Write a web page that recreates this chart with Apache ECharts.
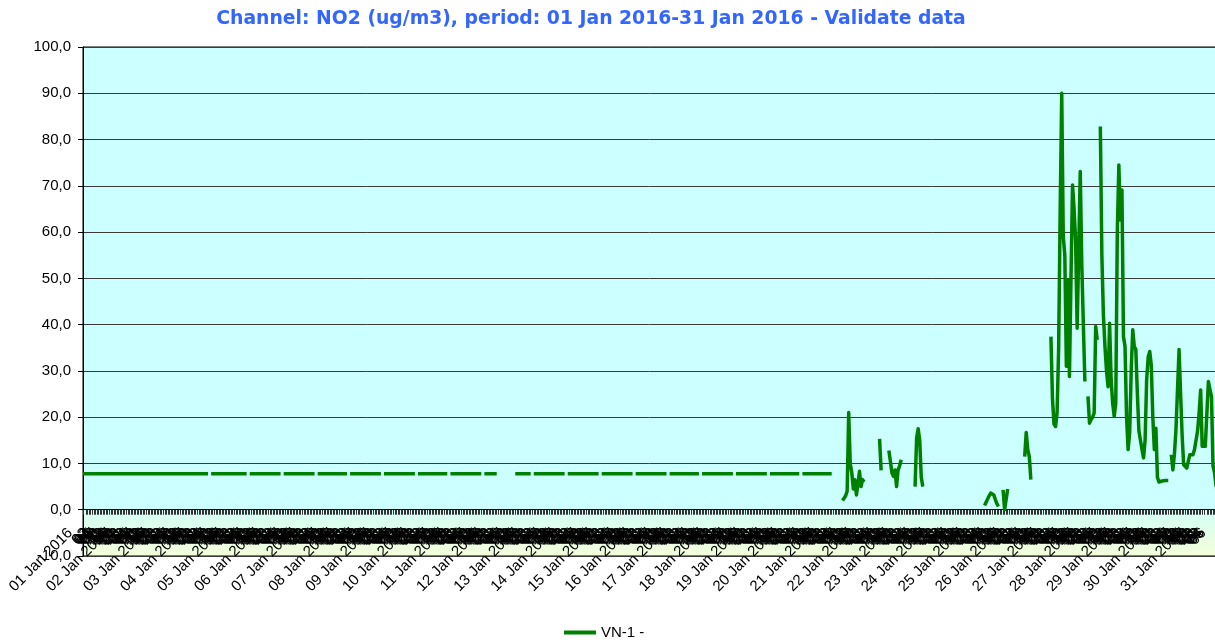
<!DOCTYPE html>
<html><head><meta charset="utf-8">
<script src="https://cdn.jsdelivr.net/npm/echarts@6/dist/echarts.min.js"></script>
<style>html,body{margin:0;padding:0;background:#fff}#c{width:1215px;height:643px}</style>
</head><body><div id="c"></div>
<script>
const _ = null;
const chartTitle = "Channel: NO2 (ug/m3), period: 01 Jan 2016-31 Jan 2016 - Validate data";
const seriesName = "VN-1 -";
const dayLabels = ["01 Jan 2016","02 Jan 2016","03 Jan 2016","04 Jan 2016","05 Jan 2016","06 Jan 2016","07 Jan 2016","08 Jan 2016","09 Jan 2016","10 Jan 2016","11 Jan 2016","12 Jan 2016","13 Jan 2016","14 Jan 2016","15 Jan 2016","16 Jan 2016","17 Jan 2016","18 Jan 2016","19 Jan 2016","20 Jan 2016","21 Jan 2016","22 Jan 2016","23 Jan 2016","24 Jan 2016","25 Jan 2016","26 Jan 2016","27 Jan 2016","28 Jan 2016","29 Jan 2016","30 Jan 2016","31 Jan 2016"];
const hourLabels = ["00","01","02","03","04","05","06","07","08","09","10","11","12","13","14","15","16","17","18","19","20","21","22","23"];
const yMin = -10, yMax = 100, yStep = 10;

// hourly NO2 values, one row per day (24 h)
const no2 = [
7.8,7.8,7.8,7.8,7.8,7.8,7.8,7.8,7.8,7.8,7.8,7.8,7.8,7.8,7.8,7.8,7.8,7.8,7.8,7.8,7.8,7.8,7.8,7.8,
7.8,7.8,7.8,7.8,7.8,7.8,7.8,7.8,7.8,7.8,7.8,7.8,7.8,7.8,7.8,7.8,7.8,7.8,7.8,7.8,7.8,7.8,7.8,7.8,
7.8,7.8,7.8,7.8,7.8,7.8,7.8,7.8,7.8,7.8,7.8,7.8,7.8,7.8,7.8,7.8,7.8,7.8,7.8,7.8,7.8,7.8,7.8,7.8,
7.8,7.8,7.8,7.8,7.8,7.8,7.8,7.8,7.8,7.8,_,7.8,7.8,7.8,7.8,7.8,7.8,7.8,7.8,7.8,7.8,7.8,7.8,7.8,
7.8,7.8,7.8,7.8,7.8,7.8,7.8,7.8,7.8,7.8,7.8,_,7.8,7.8,7.8,7.8,7.8,7.8,7.8,7.8,7.8,7.8,7.8,7.8,
7.8,7.8,7.8,7.8,7.8,7.8,7.8,7.8,7.8,_,7.8,7.8,7.8,7.8,7.8,7.8,7.8,7.8,7.8,7.8,7.8,7.8,7.8,7.8,
7.8,7.8,7.8,7.8,7.8,7.8,7.8,_,7.8,7.8,7.8,7.8,7.8,7.8,7.8,7.8,7.8,7.8,7.8,7.8,7.8,7.8,7.8,7.8,
7.8,7.8,7.8,7.8,_,7.8,7.8,7.8,7.8,7.8,7.8,7.8,7.8,7.8,7.8,7.8,7.8,7.8,7.8,7.8,7.8,7.8,7.8,7.8,
7.8,7.8,_,7.8,7.8,7.8,7.8,7.8,7.8,7.8,7.8,7.8,7.8,7.8,7.8,7.8,7.8,7.8,7.8,7.8,7.8,7.8,7.8,7.8,
_,7.8,7.8,7.8,7.8,7.8,7.8,7.8,7.8,7.8,7.8,7.8,7.8,7.8,7.8,7.8,7.8,7.8,7.8,7.8,7.8,_,7.8,7.8,
7.8,7.8,7.8,7.8,7.8,7.8,7.8,7.8,7.8,7.8,7.8,7.8,7.8,7.8,7.8,7.8,7.8,7.8,7.8,_,7.8,7.8,7.8,7.8,
7.8,7.8,7.8,7.8,7.8,_,_,_,_,_,_,_,_,_,_,_,7.8,7.8,7.8,7.8,7.8,7.8,7.8,7.8,
7.8,7.8,7.8,_,7.8,7.8,7.8,7.8,7.8,7.8,7.8,7.8,7.8,7.8,7.8,7.8,7.8,7.8,7.8,7.8,7.8,7.8,7.8,7.8,
7.8,_,7.8,7.8,7.8,7.8,7.8,7.8,7.8,7.8,7.8,7.8,7.8,7.8,7.8,7.8,7.8,7.8,7.8,7.8,7.8,7.8,7.8,_,
7.8,7.8,7.8,7.8,7.8,7.8,7.8,7.8,7.8,7.8,7.8,7.8,7.8,7.8,7.8,7.8,7.8,7.8,7.8,7.8,7.8,_,7.8,7.8,
7.8,7.8,7.8,7.8,7.8,7.8,7.8,7.8,7.8,7.8,7.8,7.8,7.8,7.8,7.8,7.8,7.8,7.8,7.8,_,7.8,7.8,7.8,7.8,
7.8,7.8,7.8,7.8,7.8,7.8,7.8,7.8,7.8,7.8,7.8,7.8,7.8,7.8,7.8,7.8,_,7.8,7.8,7.8,7.8,7.8,7.8,7.8,
7.8,7.8,7.8,7.8,7.8,7.8,7.8,7.8,7.8,7.8,7.8,7.8,7.8,7.8,_,7.8,7.8,7.8,7.8,7.8,7.8,7.8,7.8,7.8,
7.8,7.8,7.8,7.8,7.8,7.8,7.8,7.8,7.8,7.8,7.8,7.8,_,7.8,7.8,7.8,7.8,7.8,7.8,7.8,7.8,7.8,7.8,7.8,
7.8,7.8,7.8,7.8,7.8,7.8,7.8,7.8,7.8,_,7.8,7.8,7.8,7.8,7.8,7.8,7.8,7.8,7.8,7.8,7.8,7.8,7.8,7.8,
7.8,7.8,7.8,7.8,7.8,7.8,_,_,_,_,_,_,2,2.5,3,4,21,10,8,4.5,6.5,3.2,5.5,8.3,
5,6.5,6,_,_,_,_,_,_,_,_,_,15.3,8.5,_,_,_,_,12.8,10.5,8,7.2,8.6,5,
8.6,9.5,10.8,_,_,_,_,_,_,_,_,5,15.5,17.5,15,7,5,_,_,_,_,_,_,_,
_,_,_,_,_,_,_,_,_,_,_,_,_,_,_,_,_,_,_,_,_,_,_,_,
_,_,_,_,_,_,_,_,0.9,1.6,2.3,3,3.6,4,3.2,2.2,1.3,0.7,_,_,4.3,0,0,4.5,
_,_,_,_,_,_,_,_,_,_,11.5,16.7,13,11.5,6.5,_,_,_,_,_,_,_,_,_,
_,_,_,37.4,24,18.5,18,21,35,65,90,59,55,31,49.7,28.8,50,70.2,65,58,39.2,56,73.1,53,
40,27.7,_,24.5,18.7,19.5,20,20.9,39.6,36.7,_,82.8,55,42,35.3,30,26.6,40.3,28.1,23,20.2,23,60,74.5,
62.6,69.1,37.4,35.3,20,13,16.6,30,38.9,35.3,34.6,25,17,16.6,13,11.2,15,28,33,34.2,31.3,20,13,17.6,
7,6,6,6.2,6,6.3,6.2,6.3,_,11.9,8.6,12,17.3,26,34.6,25,16,9.7,9.3,9,10.5,11.9,11.9,11.9,
13,13,17,21,25.9,13.7,13.7,13.7,13.7,27.7,26,24.5,9.5,8,5,_,_,_,_,_,_,_,_,_
];

const categories = [];
for (let d = 0; d < dayLabels.length; d++) {
  for (let h = 0; h < hourLabels.length; h++) {
    categories.push(h === 0 ? dayLabels[d] : hourLabels[h]);
  }
}
const dayLabelSet = new Set(dayLabels);
const lastHourLabel = 727;
const gridTop = 47, gridBottom = 87, chartH = 643;
const plotH = chartH - gridTop - gridBottom;
// move the category axis up to the zero line of the value scale
const zeroOffset = -plotH * (0 - yMin) / (yMax - yMin);

const chart = echarts.init(document.getElementById('c'), null, {renderer: 'canvas'});
chart.setOption({
  animation: false,
  backgroundColor: '#ffffff',
  title: {
    text: chartTitle,
    left: 586, top: 5, textAlign: 'center',
    textStyle: {color: '#3366FF', fontFamily: 'DejaVu Sans', fontWeight: 'bold', fontSize: 18.8}
  },
  legend: {
    data: [seriesName], left: 559, top: 620,
    icon: 'rect', itemWidth: 32, itemHeight: 4, itemGap: 10,
    textStyle: {color: '#000', fontFamily: 'Liberation Sans', fontSize: 15}
  },
  grid: {left: 83, right: -15, top: gridTop, bottom: gridBottom, show: true, borderColor: '#000', borderWidth: 1,
         backgroundColor: 'transparent', containLabel: false, outerBoundsMode: 'none'},
  xAxis: {
    type: 'category', data: categories, boundaryGap: false, position: 'bottom', offset: zeroOffset,
    axisLine: {show: true, onZero: false, lineStyle: {color: '#000', width: 1}},
    axisTick: {show: true, interval: 0, length: 5, lineStyle: {color: '#333', width: 1}},
    axisLabel: {
      show: true, interval: (i) => i <= lastHourLabel, rotate: 45, margin: 21,
      showMinLabel: true, showMaxLabel: false,
      color: '#000', fontFamily: 'Liberation Sans', fontSize: 15,
      formatter: (v) => dayLabelSet.has(v) ? '{d|' + v + '}' : '{h|' + v + '}',
      rich: {
        d: {color: '#000', fontFamily: 'Liberation Sans', fontSize: 15, padding: [0, 9, 18, 0]},
        h: {color: '#000', fontFamily: 'Liberation Sans', fontSize: 15}
      }
    },
    splitLine: {show: false}
  },
  yAxis: {
    type: 'value', min: yMin, max: yMax, interval: yStep,
    axisLine: {show: true, lineStyle: {color: '#000', width: 1}},
    axisTick: {show: true, length: 5, lineStyle: {color: '#000'}},
    axisLabel: {color: '#000', fontFamily: 'Liberation Sans', fontSize: 15, margin: 12,
      formatter: (v) => v.toFixed(1).replace('.', ',')},
    splitLine: {show: true, lineStyle: {color: '#3a3a3a', width: 1}}
  },
  series: [
    {
      type: 'line', name: 'bg', data: [], z: -1, silent: true,
      markArea: {
        silent: true, z: -1,
        data: [
          [{yAxis: 0, itemStyle: {color: '#CCFFFF'}}, {yAxis: yMax}],
          [{yAxis: yMin, itemStyle: {color: {type: 'linear', x: 0, y: 0, x2: 0, y2: 1,
            colorStops: [{offset: 0, color: '#D2FFF6'}, {offset: 1, color: '#F4FFDA'}]}}}, {yAxis: 0}]
        ]
      }
    },
    {
      type: 'line', name: seriesName, data: no2, connectNulls: false,
      showSymbol: false, symbol: 'none', z: 3,
      itemStyle: {color: '#008000'},
      lineStyle: {color: '#008000', width: 3.5, join: 'round'}
    }
  ]
});
</script></body></html>
